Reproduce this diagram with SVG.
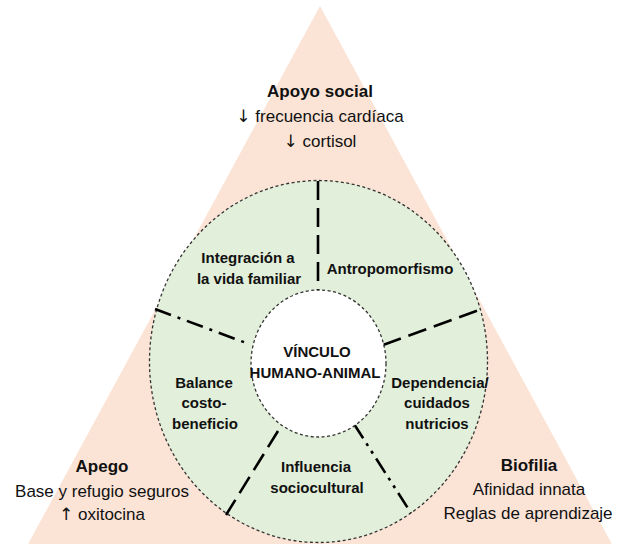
<svg xmlns="http://www.w3.org/2000/svg" width="623" height="544" viewBox="0 0 623 544">
<style>
  .t { font-family: "Liberation Sans", Arial, sans-serif; fill: #111; text-anchor: middle; }
  .h { font-size: 17px; font-weight: bold; }
  .b { font-size: 17px; }
  .n { font-size: 15px; font-weight: bold; }
  .ar { font-family: "DejaVu Sans", sans-serif; font-size: 17px; }
  .ring { stroke: #333; stroke-width: 1.3; stroke-dasharray: 3 2.5; }
  .div { stroke: #000; stroke-width: 2.6; fill: none; }
  .dash { stroke-dasharray: 19 8; }
  .dashdot { stroke-dasharray: 17 7 3 7; }
  .dashdotdot { stroke-dasharray: 17 6 3 6 3 6; }
</style>
<rect width="623" height="544" fill="#ffffff"/>
<g id="triangle">
  <polygon points="320,6 27,546 613,546" fill="#FBE4D6"/>
</g>
<g id="apoyo-social">
  <text class="t h" x="320" y="97">Apoyo social</text>
  <text class="t b" x="320" y="122"><tspan class="ar">↓</tspan> frecuencia cardíaca</text>
  <text class="t b" x="320" y="147"><tspan class="ar">↓</tspan> cortisol</text>
</g>
<g id="apego">
  <text class="t h" x="102" y="472">Apego</text>
  <text class="t b" x="102" y="497">Base y refugio seguros</text>
  <text class="t b" x="102" y="520"><tspan class="ar">↑</tspan> oxitocina</text>
</g>
<g id="biofilia">
  <text class="t h" x="529" y="471">Biofilia</text>
  <text class="t b" x="529" y="495">Afinidad innata</text>
  <text class="t b" x="528" y="519">Reglas de aprendizaje</text>
</g>
<g id="outer-ring">
  <ellipse class="ring" cx="318.5" cy="361.5" rx="169" ry="181" fill="#E2EFDA"/>
</g>
<g id="connectors">
  <line class="div dash" x1="318" y1="181" x2="318" y2="290"/>
  <line class="div dashdot" x1="155" y1="309" x2="249" y2="344"/>
  <line class="div dash" x1="383" y1="345" x2="482" y2="309"/>
  <line class="div dash" x1="278" y1="431" x2="226" y2="515"/>
  <line class="div dashdotdot" x1="354" y1="424" x2="411" y2="513"/>
</g>
<g id="inner-circle">
  <ellipse class="ring" cx="318.5" cy="363.5" rx="67.5" ry="73.5" fill="#ffffff"/>
  <text class="t n" x="317" y="357" font-size="14.5">VÍNCULO</text>
  <text class="t n" x="315" y="378" font-size="14.5">HUMANO-ANIMAL</text>
</g>
<g id="integracion">
  <text class="t n" x="248" y="263">Integración a</text>
  <text class="t n" x="249" y="284">la vida familiar</text>
</g>
<g id="antropomorfismo">
  <text class="t n" x="390" y="274">Antropomorfismo</text>
</g>
<g id="balance">
  <text class="t n" x="204" y="388">Balance</text>
  <text class="t n" x="204" y="408">costo-</text>
  <text class="t n" x="205" y="429">beneficio</text>
</g>
<g id="dependencia">
  <text class="t n" x="440" y="388">Dependencia/</text>
  <text class="t n" x="437" y="408">cuidados</text>
  <text class="t n" x="437" y="429">nutricios</text>
</g>
<g id="influencia">
  <text class="t n" x="316" y="472">Influencia</text>
  <text class="t n" x="317" y="493">sociocultural</text>
</g>
</svg>
